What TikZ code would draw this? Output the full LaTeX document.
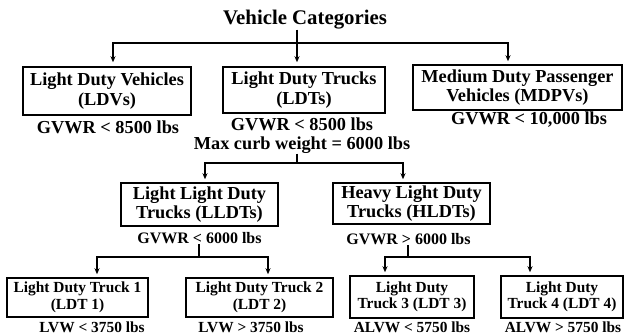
\documentclass[tikz,border=0pt]{standalone}
\usepackage{fontspec}
\setmainfont{Liberation Serif}
\usetikzlibrary{arrows.meta}
\begin{document}
\begin{tikzpicture}[x=1pt,y=-1pt,
  box/.style={draw, line width=1.5pt, inner sep=0pt, align=center},
  bigf/.style={font=\bfseries\fontsize{18.3}{19.5}\selectfont},
  midf/.style={font=\bfseries\fontsize{16}{18}\selectfont},
  smlf/.style={font=\bfseries\fontsize{15.4}{16.5}\selectfont},
  lbl/.style={inner sep=0pt},
  conn/.style={line width=1.5pt},
  arr/.style={line width=1.5pt, -{Stealth[length=6pt,width=5pt]}, shorten >=3pt}]
\useasboundingbox (0,0) rectangle (625,336);

\node[lbl, font=\bfseries\fontsize{20.8}{22}\selectfont] (title) at (305,20) {Vehicle Categories};

\node[box, bigf, minimum width=168, minimum height=48] (A) at (107,91) {Light Duty Vehicles\\(LDVs)};
\node[box, bigf, minimum width=162, minimum height=46] (B) at (304,90) {Light Duty Trucks\\(LDTs)};
\node[box, bigf, minimum width=209, minimum height=45] (C) at (517.5,87.5) {Medium Duty Passenger\\Vehicles (MDPVs)};

\node[lbl, bigf] (gA) at (108,127) {GVWR < 8500 lbs};
\node[lbl, bigf] (gB) at (302,124) {GVWR < 8500 lbs};
\node[lbl, bigf] (gC) at (529,120) {GVWR < 10,000 lbs};
\node[lbl, bigf] (mc) at (302,145) {Max curb weight = 6000 lbs};

\node[box, bigf, minimum width=157, minimum height=43] (D) at (199.5,204.5) {Light Light Duty\\Trucks (LLDTs)};
\node[box, bigf, minimum width=157, minimum height=41] (E) at (411.5,203.5) {Heavy Light Duty\\Trucks (HLDTs)};

\node[lbl, midf] (gD) at (199.5,238) {GVWR < 6000 lbs};
\node[lbl, midf] (gE) at (408.5,239) {GVWR > 6000 lbs};

\node[box, smlf, minimum width=141, minimum height=39] (F) at (77.5,297.5) {Light Duty Truck 1\\(LDT 1)};
\node[box, smlf, minimum width=147, minimum height=39] (G) at (259.5,297.5) {Light Duty Truck 2\\(LDT 2)};
\node[box, smlf, minimum width=124, minimum height=42] (H) at (412,297) {Light Duty\\Truck 3 (LDT 3)};
\node[box, smlf, minimum width=122, minimum height=42] (I) at (562,297) {Light Duty\\Truck 4 (LDT 4)};

\node[lbl, smlf] (lF) at (92,327) {LVW < 3750 lbs};
\node[lbl, smlf] (lG) at (251,327) {LVW > 3750 lbs};
\node[lbl, smlf] (lH) at (412,327) {ALVW < 5750 lbs};
\node[lbl, smlf] (lI) at (563,327) {ALVW > 5750 lbs};

% top level
\coordinate (j0) at (297,43);
\draw[conn] ([xshift=-8pt]title.south) -- (j0);
\draw[arr, shorten >=4pt] (j0) -| ([xshift=6pt]A.north);
\draw[arr, shorten >=4pt] (j0) -- ([xshift=-7pt]B.north);
\draw[arr, shorten >=3pt] (j0) -| ([xshift=-9.5pt]C.north);

% LDT split
\coordinate (j1) at (297,163);
\draw[conn] ([xshift=-5pt]mc.south) -- (j1);
\draw[arr] (j1) -| ([xshift=5.5pt]D.north);
\draw[arr] (j1) -| ([xshift=-8.5pt]E.north);

% LLDT split
\coordinate (j2) at (199,257);
\draw[conn] ([xshift=-0.5pt]gD.south) -- (j2);
\draw[arr] (j2) -| ([xshift=19.5pt]F.north);
\draw[arr] (j2) -| ([xshift=8.5pt]G.north);

% HLDT split
\coordinate (j3) at (408,257);
\draw[conn] ([xshift=-0.5pt]gE.south) -- (j3);
\draw[arr] (j3) -| ([xshift=-27pt]H.north);
\draw[arr] (j3) -| ([xshift=-32pt]I.north);
\end{tikzpicture}
\end{document}
